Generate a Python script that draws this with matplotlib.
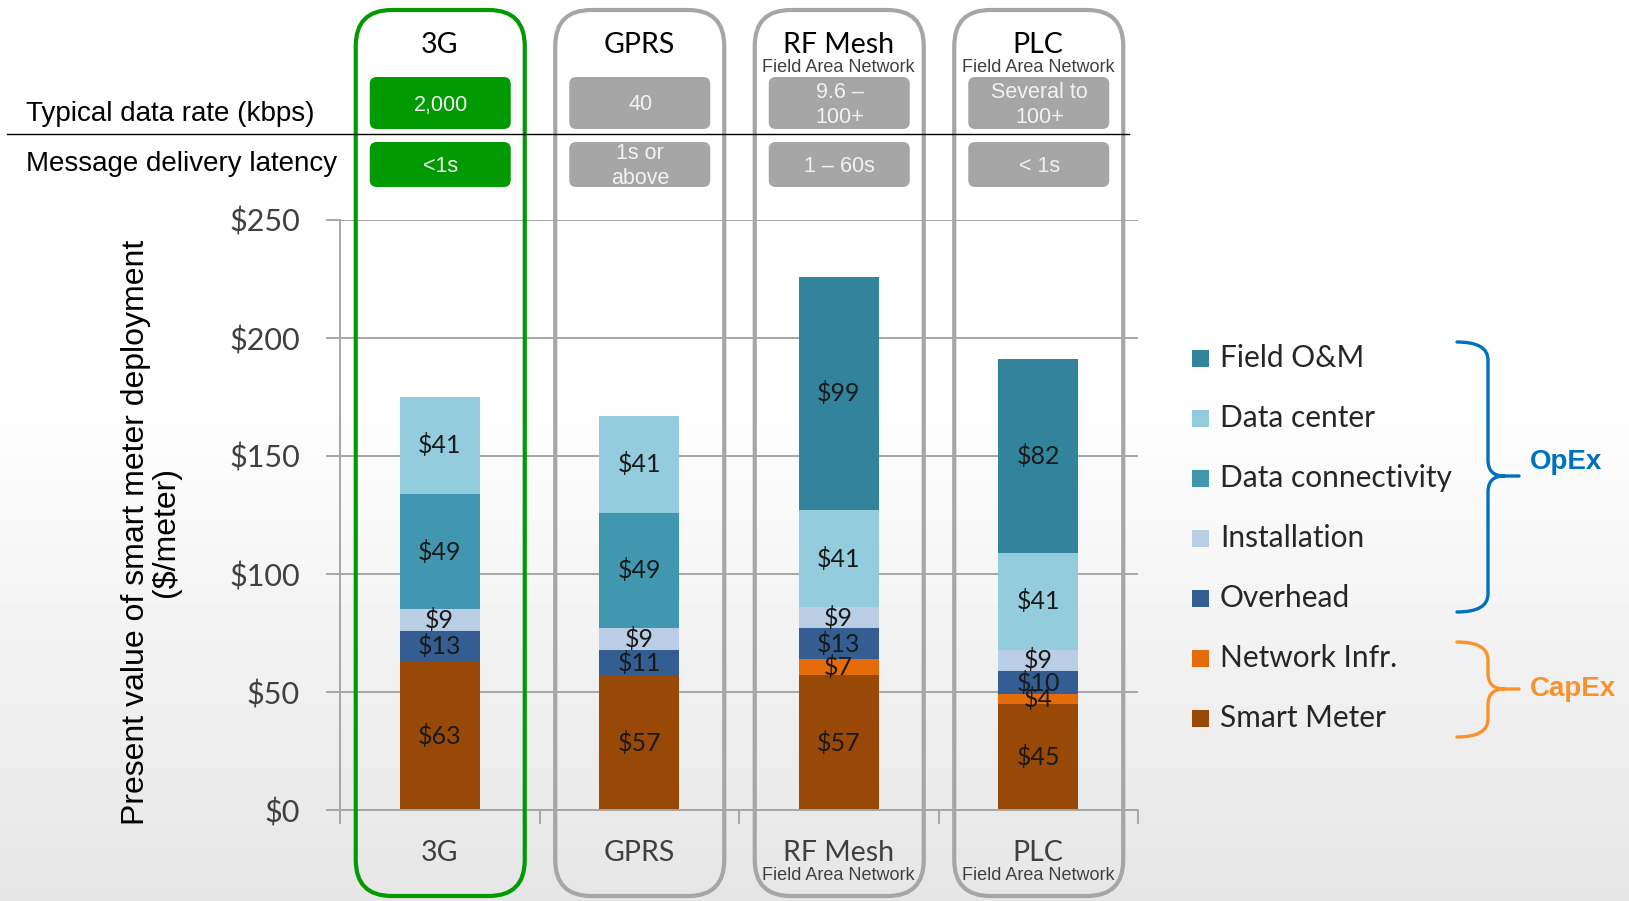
import numpy as np
import matplotlib
matplotlib.use("Agg")
import matplotlib.pyplot as plt
from matplotlib.patches import FancyBboxPatch, PathPatch, Rectangle
from matplotlib.path import Path
from matplotlib import transforms

# data
categories = ['3G', 'GPRS', 'RF Mesh', 'PLC']
subtitles = ['', '', 'Field Area Network', 'Field Area Network']
data_rate = ['2,000', '40', '9.6 –\n100+', 'Several to\n100+']
latency = ['<1s', '1s or\nabove', '1 – 60s', '< 1s']

series_names = ['Smart Meter', 'Network Infr.', 'Overhead', 'Installation',
                'Data connectivity', 'Data center', 'Field O&M']
smart_meter = [63, 57, 57, 45]
network_infr = [0, 0, 7, 4]
overhead = [13, 11, 13, 10]
installation = [9, 9, 9, 9]
data_connectivity = [49, 49, 0, 0]
data_center = [41, 41, 41, 41]
field_om = [0, 0, 99, 82]
series = [smart_meter, network_infr, overhead, installation,
          data_connectivity, data_center, field_om]
colors = ['#984807', '#E46C0A', '#345E92', '#B9CDE5',
          '#4197B0', '#93CDDD', '#31849B']

yticks = [0, 50, 100, 150, 200, 250]

W, H = 1629, 901
ARIAL = 'Liberation Sans'
CAL = 'Lato'
GRID = '#A6A6A6'

fig = plt.figure(figsize=(W / 100, H / 100), dpi=100)

# background gradient
bg = fig.add_axes([0, 0, 1, 1], zorder=0)
bg.axis('off')
rows = np.arange(H)
shade = np.where(rows < 380, 1.0, 1.0 - 0.10 * (rows - 380) / (H - 380))
bg.imshow(shade[:, None], cmap='gray', vmin=0, vmax=1, aspect='auto',
          extent=[0, 1, 0, 1], origin='upper')

# main chart
ax = fig.add_axes([340 / W, (H - 810) / H, 798 / W, 590 / H], zorder=1)
ax.patch.set_visible(False)
x = np.arange(len(categories))
bottom = np.zeros(len(categories))
for name, vals, c in zip(series_names, series, colors):
    vals = np.array(vals, dtype=float)
    ax.bar(x, vals, 0.40, bottom=bottom, color=c, zorder=2, label=name)
    for i, v in enumerate(vals):
        if v > 0:
            ax.text(i, bottom[i] + v / 2, f'${int(v)}', ha='center', va='center',
                    fontsize=18, family=CAL, color='#1a1a1a', zorder=3)
    bottom += vals

ax.set_xlim(-0.5, 3.5)
ax.set_ylim(0, 250)
ax.set_yticks(yticks)
ax.set_yticklabels([f'${t}' for t in yticks], family=CAL, fontsize=22, color='#404040')
ax.yaxis.grid(True, color=GRID, lw=1.4, zorder=0)
ax.set_axisbelow(True)
ax.tick_params(axis='y', length=10, width=1.4, color=GRID, pad=19)
ax.set_xticks([])
ax.set_xticks(np.arange(-0.5, 4, 1), minor=True)
ax.tick_params(axis='x', which='minor', length=10, width=1.4, color=GRID)
for s in ['top', 'right']:
    ax.spines[s].set_visible(False)
for s in ['left', 'bottom']:
    ax.spines[s].set_color(GRID)
    ax.spines[s].set_linewidth(1.4)

# category labels under the axis
lab_tr = transforms.offset_copy(ax.transData, fig=fig, y=-43, units='dots')
sub_tr = transforms.offset_copy(ax.transData, fig=fig, y=-66, units='dots')
for i, (c, s) in enumerate(zip(categories, subtitles)):
    ax.text(i, 0, c, transform=lab_tr, ha='center', va='center',
            fontsize=20.5, family=CAL, color='#404040')
    if s:
        ax.text(i, 0, s, transform=sub_tr, ha='center', va='center',
                fontsize=13, family=ARIAL, color='#404040')

# overlay in pixel coordinates
ov = fig.add_axes([0, 0, 1, 1], zorder=3)
ov.set_xlim(0, W)
ov.set_ylim(H, 0)
ov.axis('off')
ov.patch.set_visible(False)

fig.canvas.draw()
inv = ov.transData.inverted()
centers = [inv.transform(ax.transData.transform((i, 0)))[0] for i in x]

ov.plot([7, 1129], [134, 134], color='black', lw=1.0)
ov.text(26, 114, 'Typical data rate (kbps)', ha='left', va='center',
        fontsize=20, family=ARIAL, color='black')
ov.text(26, 164, 'Message delivery latency', ha='left', va='center',
        fontsize=20, family=ARIAL, color='black')

for i, cx in enumerate(centers):
    hi = i == 0
    edge = '#029A02' if hi else '#A6A6A6'
    ov.add_patch(FancyBboxPatch((cx - 84, 10), 169, 886,
                                boxstyle='round,pad=0,rounding_size=36',
                                fc='none', ec=edge, lw=3.0))
    pill = '#029A02' if hi else '#A6A6A6'
    ov.add_patch(FancyBboxPatch((cx - 70, 77), 141, 52,
                                boxstyle='round,pad=0,rounding_size=7',
                                fc=pill, ec='none'))
    ov.add_patch(FancyBboxPatch((cx - 70, 142), 141, 45,
                                boxstyle='round,pad=0,rounding_size=7',
                                fc=pill, ec='none'))
    ov.text(cx + 1, 105, data_rate[i], ha='center', va='center', fontsize=15.5,
            family=ARIAL, color='#F2F2F2', linespacing=1.3)
    ov.text(cx + 1, 166, latency[i], ha='center', va='center', fontsize=15.5,
            family=ARIAL, color='#F2F2F2', linespacing=1.2)
    ov.text(cx, 45, categories[i], ha='center', va='center', fontsize=20.5,
            family=CAL, color='black')
    if subtitles[i]:
        ov.text(cx, 67, subtitles[i], ha='center', va='center', fontsize=13,
                family=ARIAL, color='#404040')

ov.text(151, 532, 'Present value of smart meter deployment\n($/meter)',
        rotation=90, ha='center', va='center', multialignment='center',
        fontsize=23, family=ARIAL, color='black', linespacing=1.0)

# legend (top to bottom = reverse stack order)
for k, (name, c) in enumerate(zip(series_names[::-1], colors[::-1])):
    yy = 358 + 60 * k
    ov.add_patch(Rectangle((1192, yy - 8.5), 17, 17, fc=c, ec='none'))
    ov.text(1220, yy, name, ha='left', va='center', fontsize=21.5,
            family=CAL, color='#262626')


def brace(top, bot, mid, color):
    xl, xv, xt = 1457, 1488, 1519
    verts = [(xl, top), (xv, top), (xv, top + 18),
             (xv, mid - 16),
             (xv, mid), (xv + 16, mid),
             (xt, mid),
             (xv + 16, mid), (xv, mid), (xv, mid + 16),
             (xv, bot - 18),
             (xv, bot), (xl, bot)]
    codes = [Path.MOVETO, Path.CURVE3, Path.CURVE3,
             Path.LINETO,
             Path.CURVE3, Path.CURVE3,
             Path.LINETO,
             Path.MOVETO, Path.CURVE3, Path.CURVE3,
             Path.LINETO,
             Path.CURVE3, Path.CURVE3]
    ov.add_patch(PathPatch(Path(verts, codes), fc='none', ec=color, lw=2.4,
                           capstyle='round'))


brace(342, 612, 476, '#0070C0')
brace(642, 737, 689, '#F8922A')
ov.text(1530, 462, 'OpEx', ha='left', va='center', fontsize=20,
        family=ARIAL, weight='bold', color='#0070C0')
ov.text(1530, 689, 'CapEx', ha='left', va='center', fontsize=20,
        family=ARIAL, weight='bold', color='#F8922A')

fig.savefig('out.png', dpi=100)
